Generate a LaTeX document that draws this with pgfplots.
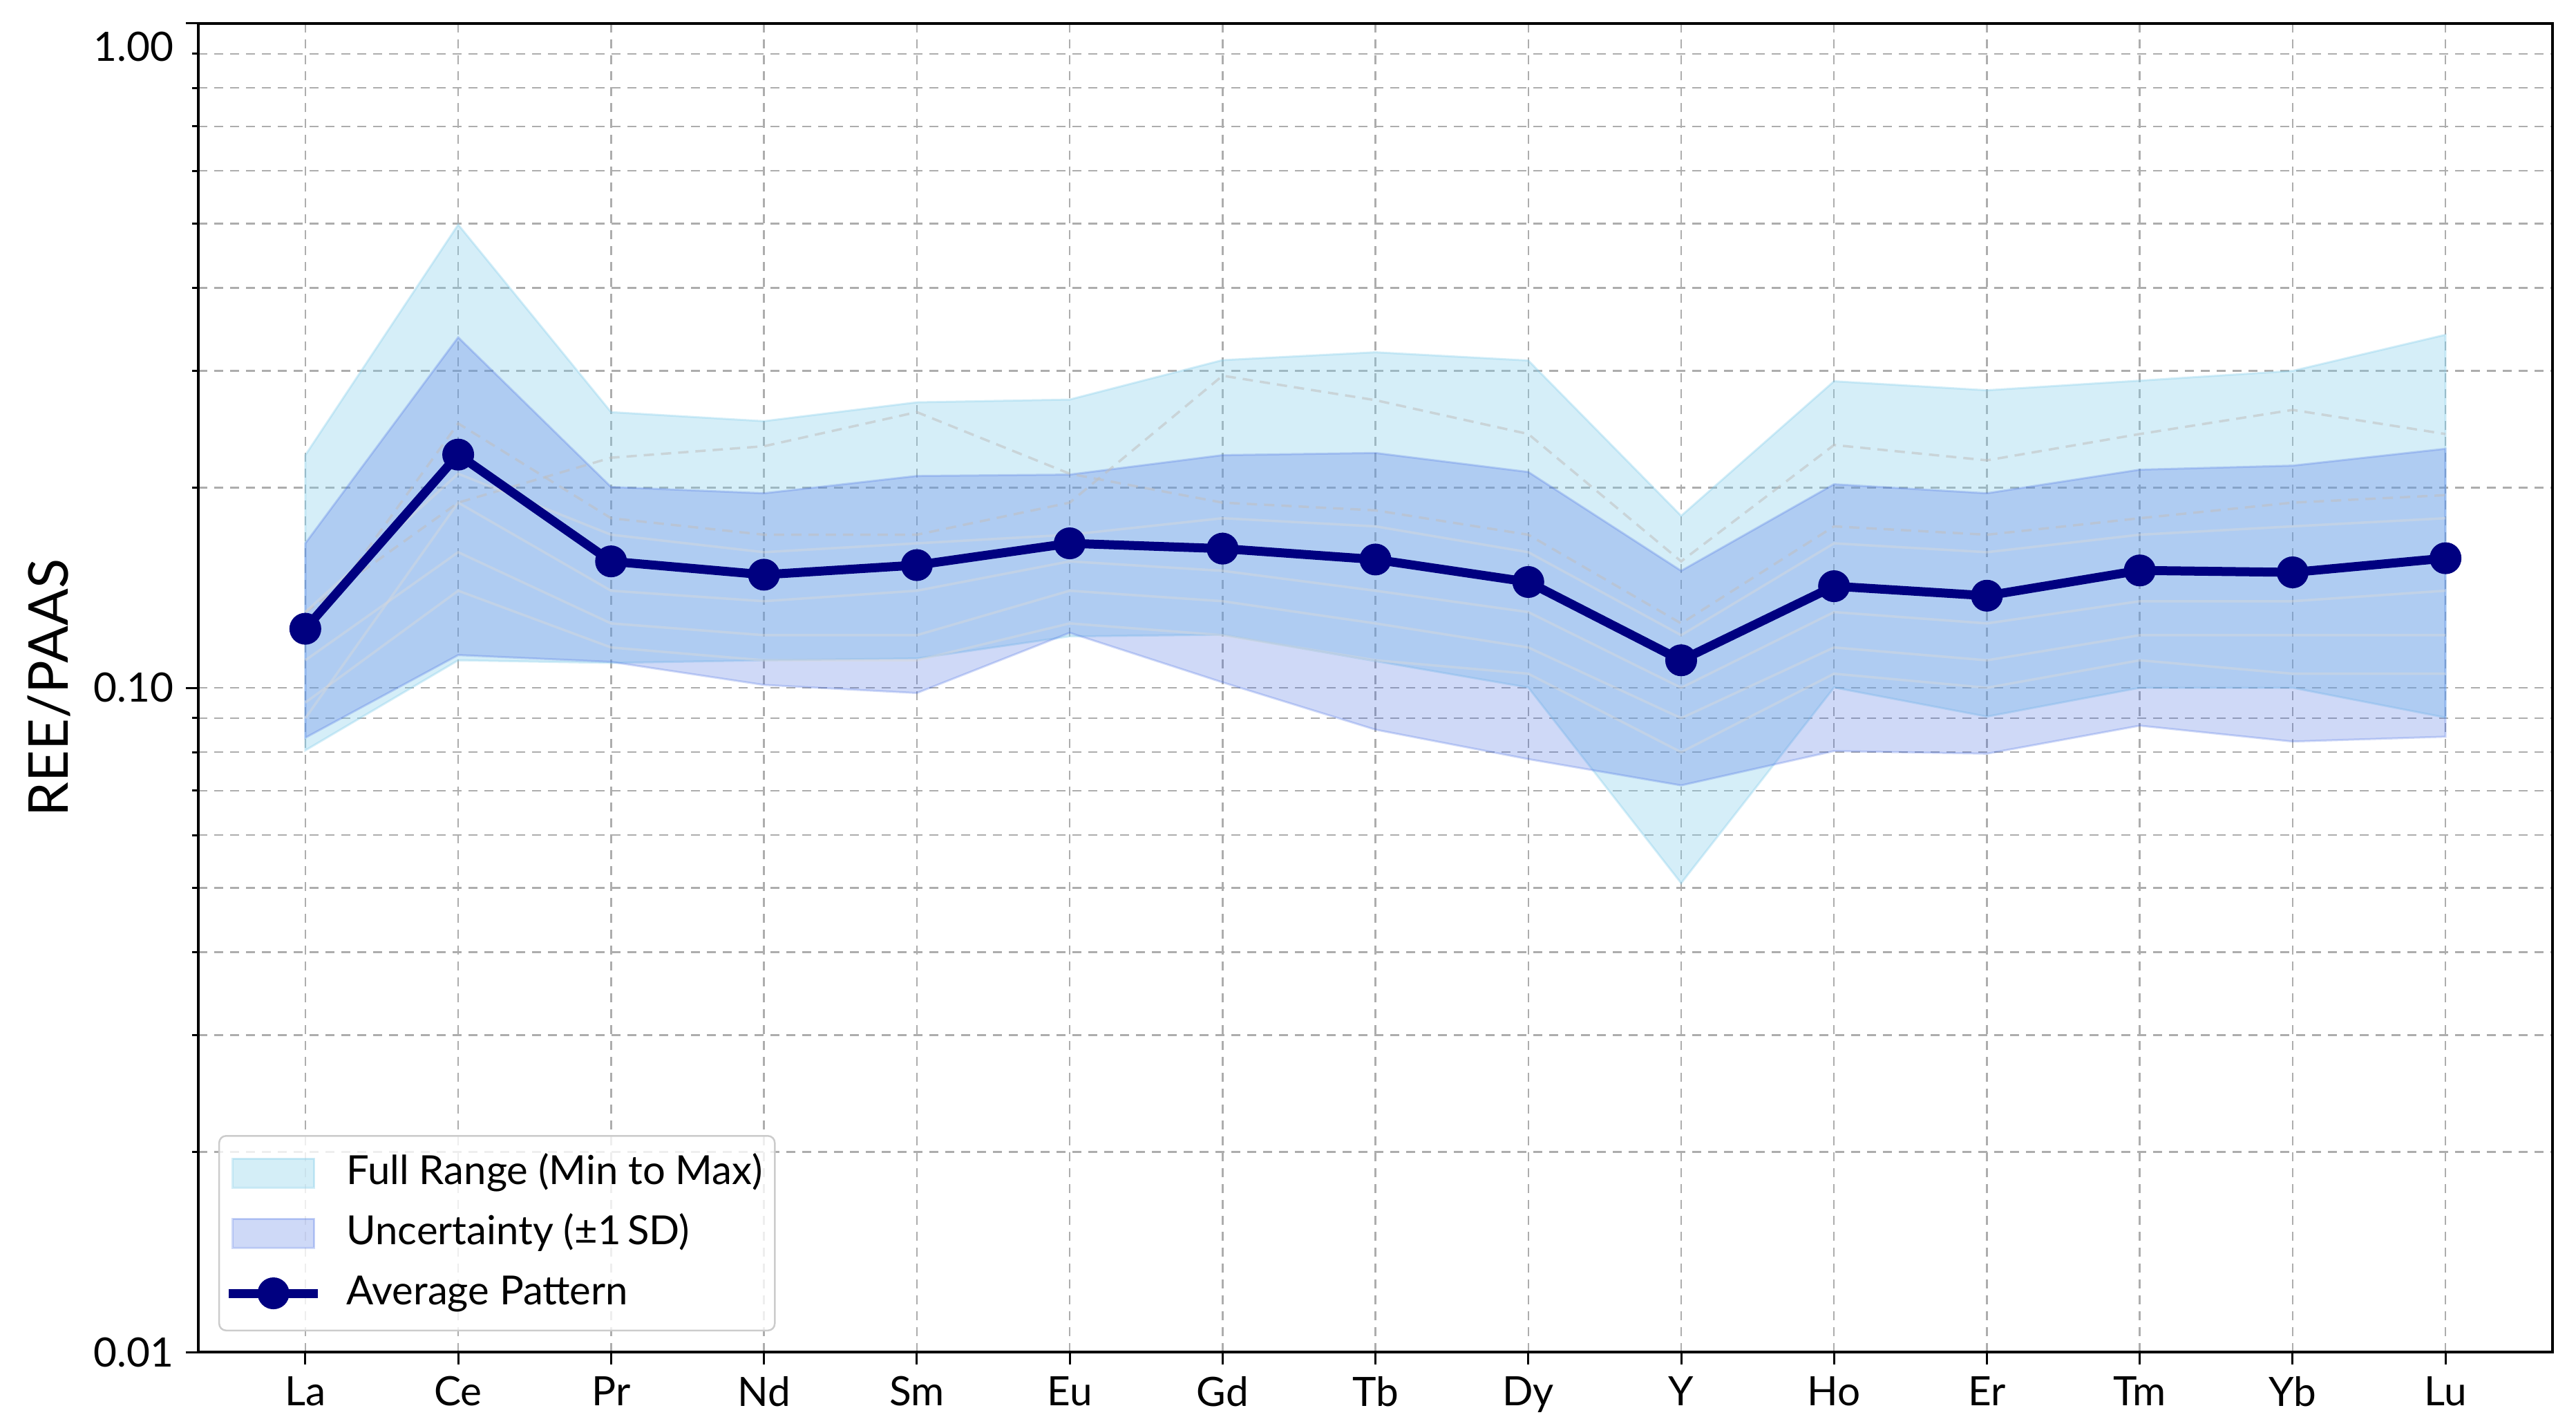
\documentclass[border=0pt]{standalone}
\usepackage{fontspec}
\setmainfont{Lato}
\usepackage{pgfplots}
\usepackage{pgfplotstable}
\pgfplotsset{compat=1.18}

\definecolor{skyb}{RGB}{135,206,235}
\definecolor{royb}{RGB}{65,105,225}
\definecolor{navyc}{RGB}{0,0,128}

\pgfplotsset{
  meanleg/.style={legend image code/.code={\draw[sharp corners, fill opacity=1, mark repeat=2, mark phase=2, ##1] plot coordinates {(0pt,0pt) (12.9pt,0pt) (25.8pt,0pt)};}},
  fullleg/.style={legend image code/.code={\path[draw=none, fill=none] (0pt,0pt) rectangle (25.8pt,0pt);
    \draw[sharp corners, fill=skyb, fill opacity=0.35, draw=skyb, draw opacity=0.35, line width=0.6pt] (1.1pt,-4.2pt) rectangle (24.7pt,4.2pt);}},
  sdleg/.style={legend image code/.code={\path[draw=none, fill=none] (0pt,0pt) rectangle (25.8pt,0pt);
    \draw[sharp corners, fill=royb, fill opacity=0.25, draw=royb, draw opacity=0.25, line width=0.6pt] (1.1pt,-4.2pt) rectangle (24.7pt,4.2pt);}},
}

% average pattern
\pgfplotstableread{
x mean
0 0.1227
1 0.2244
2 0.155
3 0.148
4 0.153
5 0.165
6 0.162
7 0.156
8 0.1443
9 0.110
10 0.1422
11 0.1376
12 0.1502
13 0.1492
14 0.1567
}\meandata

% full range: max (La..Lu) followed by min (Lu..La)
\pgfplotstableread{
x y
0 0.224
1 0.498
2 0.260
3 0.252
4 0.269
5 0.2716
6 0.3114
7 0.320
8 0.311
9 0.1815
10 0.2894
11 0.2805
12 0.290
13 0.300
14 0.340
14 0.0902
13 0.100
12 0.100
11 0.0905
10 0.1001
9 0.0508
8 0.1001
7 0.1097
6 0.1202
5 0.1195
4 0.1107
3 0.110
2 0.109
1 0.110
0 0.0805
}\fullrange

% mean +1 SD (La..Lu) followed by mean -1 SD (Lu..La)
\pgfplotstableread{
x y
0 0.165
1 0.337
2 0.2006
3 0.1963
4 0.2084
5 0.2094
6 0.224
7 0.2257
8 0.2113
9 0.150
10 0.2025
11 0.1963
12 0.213
13 0.216
14 0.229
14 0.0844
13 0.083
12 0.0877
11 0.0796
10 0.0803
9 0.0713
8 0.0781
7 0.0865
6 0.1019
5 0.121
4 0.0982
3 0.101
2 0.1094
1 0.112
0 0.0841
}\sdband

\pgfplotstableread{
x d1 d2 f1 f2 f3 f4
0 0.13 0.12 0.09 0.11 0.13 0.095
1 0.19 0.25 0.19 0.16 0.21 0.14
2 0.222 0.18 0.14 0.125 0.17 0.115
3 0.231 0.17 0.135 0.12 0.16 0.11
4 0.260 0.17 0.14 0.12 0.165 0.11
5 0.21 0.19 0.155 0.14 0.17 0.125
6 0.19 0.295 0.15 0.135 0.18 0.12
7 0.185 0.271 0.14 0.125 0.175 0.11
8 0.17 0.241 0.13 0.115 0.16 0.105
9 0.125 0.155 0.10 0.09 0.12 0.08
10 0.175 0.232 0.13 0.115 0.165 0.105
11 0.17 0.220 0.125 0.11 0.16 0.10
12 0.18 0.241 0.135 0.12 0.17 0.11
13 0.19 0.262 0.135 0.12 0.175 0.105
14 0.195 0.241 0.14 0.12 0.18 0.105
}\samples

\begin{document}
\begin{tikzpicture}
\useasboundingbox (-57.4pt,-21.2pt) rectangle (688.2pt,391.2pt);
\begin{axis}[
  name=ax, at={(0pt,0pt)}, anchor=south west,
  scale only axis, width=681.4pt, height=384.4pt,
  clip mode=individual,
  ymode=log, ymin=0.01, ymax=1,
  xmin=-0.7, xmax=14.7,
  xtick={0,...,14},
  xticklabels={La,Ce,Pr,Nd,Sm,Eu,Gd,Tb,Dy,Y,Ho,Er,Tm,Yb,Lu},
  ytick={0.01,0.1,1}, yticklabels={0.01,0.10,{}},
  tick align=outside, xtick pos=bottom, ytick pos=left,
  major tick length=3.6pt, minor tick length=1.8pt,
  tick style={black, line width=0.6pt},
  axis line style={line width=0.7pt},
  xmajorgrids, ymajorgrids, yminorgrids,
  major grid style={black!32, line width=0.5pt, dash pattern=on 2.6pt off 2pt},
  minor grid style={black!32, line width=0.5pt, dash pattern=on 2.6pt off 2pt},
  tick label style={font=\fontsize{11.7}{14}\selectfont},
  ylabel={REE/PAAS},
  ylabel style={font=\fontsize{15.9}{19}\selectfont, at={(axis description cs:-0.0634,0.5)}, anchor=center},
  legend style={at={(axis description cs:0.0085,0.0156)}, anchor=south west,
    draw=black!20, line width=0.5pt, rounded corners=2pt, fill=white, fill opacity=0.8,
    text opacity=1, draw opacity=1,
    font=\fontsize{11.6}{13.9}\selectfont,
    inner xsep=1.5pt, inner ysep=3pt, row sep=1.9pt,
    nodes={inner sep=2pt, text height=9pt, text depth=2.5pt},
    /tikz/every odd column/.append style={column sep=5pt}},
  legend cell align=left,
]
% full range (min to max)
\addplot[fill=skyb, fill opacity=0.35, draw=skyb, draw opacity=0.35, line width=0.6pt, forget plot]
  table[x=x,y=y]{\fullrange} -- cycle;
% +-1 SD
\addplot[fill=royb, fill opacity=0.25, draw=royb, draw opacity=0.25, line width=0.6pt, forget plot]
  table[x=x,y=y]{\sdband} -- cycle;
% faint individual samples
\addplot[black!25, opacity=0.55, line width=0.7pt, dash pattern=on 3pt off 2pt, forget plot] table[x=x,y=d1]{\samples};
\addplot[black!25, opacity=0.55, line width=0.7pt, dash pattern=on 3pt off 2pt, forget plot] table[x=x,y=d2]{\samples};
\addplot[black!15, opacity=0.45, line width=0.7pt, forget plot] table[x=x,y=f1]{\samples};
\addplot[black!15, opacity=0.45, line width=0.7pt, forget plot] table[x=x,y=f2]{\samples};
\addplot[black!15, opacity=0.45, line width=0.7pt, forget plot] table[x=x,y=f3]{\samples};
\addplot[black!15, opacity=0.45, line width=0.7pt, forget plot] table[x=x,y=f4]{\samples};
% legend images
\addlegendimage{fullleg}
\addlegendentry{Full Range (Min to Max)}
\addlegendimage{sdleg}
\addlegendentry{Uncertainty (±1\,SD)}
% average
\addplot[navyc, line width=2.6pt, mark=*, mark size=3.3pt, mark options={solid, fill=navyc}, meanleg]
  table[x=x,y=mean]{\meandata};
\addlegendentry{Average Pattern}
\node[anchor=east, font=\fontsize{11.7}{14}\selectfont, xshift=-3.6pt, yshift=-6.8pt] at (axis description cs:0,1) {1.00};
\end{axis}
\end{tikzpicture}
\end{document}
